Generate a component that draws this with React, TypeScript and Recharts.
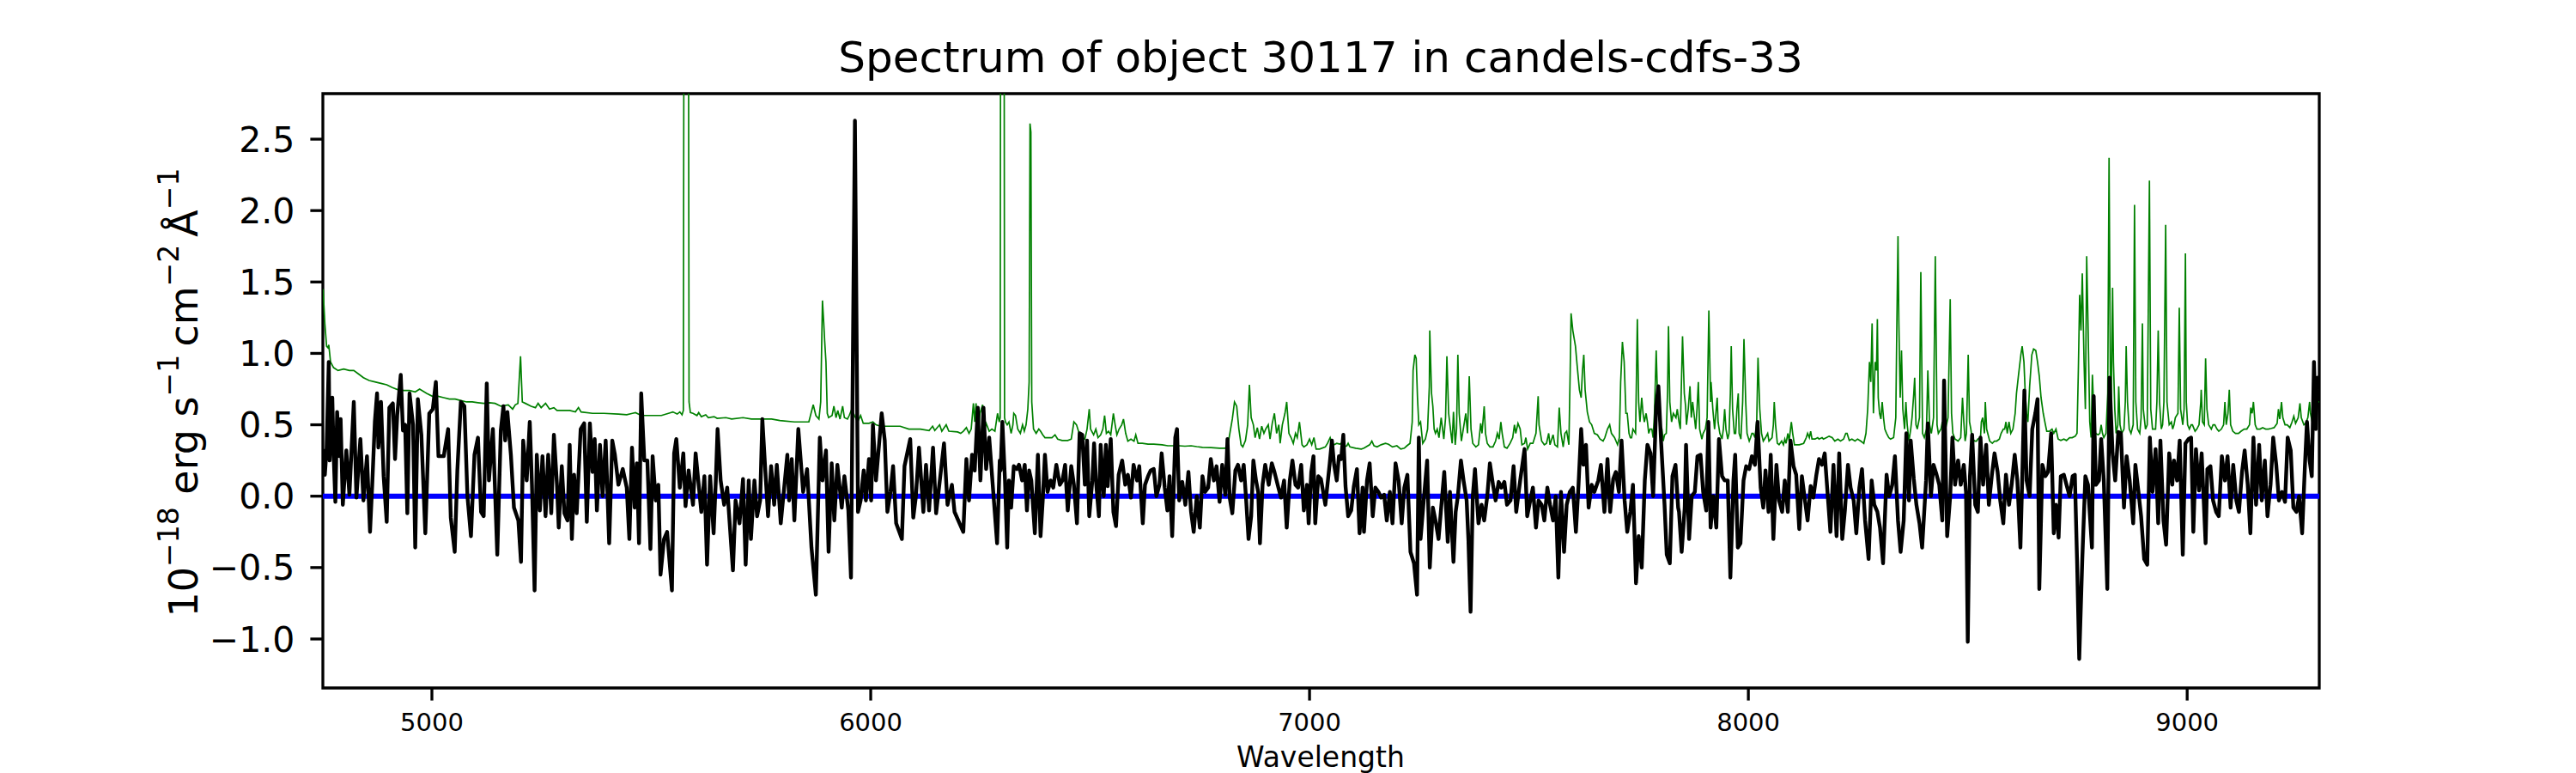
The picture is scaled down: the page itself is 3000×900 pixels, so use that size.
import React from 'react';
import { LineChart, Line, XAxis, YAxis, ReferenceLine, ReferenceArea } from 'recharts';

const FONT = '"DejaVu Sans", sans-serif';
const TITLE = 'Spectrum of object 30117 in candels-cdfs-33';

const xDomain: [number, number] = [4751.5, 9301];
const yDomain: [number, number] = [-1.343, 2.819];
const xTicks = [5000, 6000, 7000, 8000, 9000];
const yTicks = [-1.0, -0.5, 0, 0.5, 1.0, 1.5, 2.0, 2.5];

// object flux, [wavelength, 1e-18 erg/s/cm2/A]
const fluxSeg1: [number, number][] = [
  [4752, 0.33], [4756, 0.15], [4760, 0.33], [4765, 0.94], [4767, 0.25], [4773, 0.69], [4776, 0.3], [4780, -0.04],
  [4784, 0.59], [4789, 0.28], [4792, 0.54], [4797, -0.06], [4805, 0.32], [4812, 0.01], [4822, 0.66], [4828, -0.01],
  [4837, 0.4], [4844, -0.03], [4852, 0.28], [4859, -0.25], [4864, 0.08], [4870, 0.52], [4875, 0.72], [4878, 0.34],
  [4884, 0.66], [4890, 0.14], [4897, -0.18], [4903, 0.62], [4911, 0.65], [4916, 0.26], [4921, 0.57], [4929, 0.85],
  [4934, 0.46], [4939, 0.5], [4944, -0.12], [4949, 0.72], [4957, 0.5], [4962, -0.36], [4968, 0.68], [4976, 0.43],
  [4985, -0.26], [4994, 0.58], [5002, 0.61], [5009, 0.8], [5015, 0.28], [5027, 0.28], [5037, 0.47], [5043, -0.15],
  [5052, -0.39], [5058, 0.18], [5066, 0.66], [5074, 0.63], [5081, 0], [5089, -0.28], [5097, 0.29], [5105, 0.41],
  [5112, -0.11], [5118, -0.14], [5125, 0.79], [5130, 0.11], [5139, 0.47], [5149, -0.41], [5157, 0.46], [5163, 0.63],
  [5167, 0.39], [5172, 0.59], [5180, 0.29], [5187, -0.08], [5197, -0.17], [5203, -0.46], [5208, 0.39], [5216, 0.11],
  [5223, 0.52], [5228, 0.08], [5234, -0.66], [5239, 0.29], [5246, -0.1], [5252, 0.28], [5259, -0.14], [5265, 0.29],
  [5272, -0.12], [5278, 0.43], [5285, 0.08], [5289, -0.22], [5296, 0.21], [5302, -0.12], [5309, -0.17], [5314, 0.36],
  [5319, -0.3], [5324, 0.15], [5330, -0.12], [5339, 0.47], [5347, 0.51], [5353, -0.18], [5360, 0.51], [5366, 0.17],
  [5371, 0.4], [5376, -0.1], [5383, 0.36], [5389, 0], [5396, 0.39], [5404, -0.33], [5411, 0.39], [5417, 0.29],
  [5425, 0.08], [5435, 0.19], [5444, 0.06], [5450, -0.3], [5456, 0.34], [5462, -0.08], [5467, 0.23], [5472, -0.33],
  [5477, 0.72], [5484, 0.25], [5491, 0.25], [5498, -0.37], [5503, 0.28], [5510, -0.03], [5516, 0.08], [5521, -0.55],
];

const fluxSeg2: [number, number][] = [
  [5529, -0.3], [5536, -0.25], [5547, -0.66], [5552, 0.3], [5557, 0.4], [5565, 0.06], [5573, 0.3], [5578, -0.07],
  [5585, 0.18], [5595, -0.06], [5601, 0.3], [5614, -0.11], [5621, 0.14], [5627, -0.48], [5634, 0.14], [5642, -0.26],
  [5647, 0.11], [5651, 0.47], [5658, 0.11], [5666, -0.06], [5673, 0.06], [5686, -0.52], [5692, -0.03], [5701, -0.19],
  [5709, 0.12], [5715, -0.48], [5722, 0.11], [5727, -0.3], [5735, 0.11], [5741, -0.14], [5748, -0.03], [5753, 0.54],
  [5760, 0.17], [5766, -0.14], [5773, 0.21], [5780, -0.06], [5786, 0.22], [5795, -0.19], [5810, 0.29], [5814, -0.03],
  [5820, 0.26], [5826, -0.17], [5835, 0.47], [5846, 0.03], [5855, 0.19], [5865, -0.36], [5875, -0.69], [5884, 0.41],
  [5890, 0.11], [5898, 0.32], [5904, -0.39], [5911, 0.23], [5917, -0.17], [5924, 0.22], [5934, -0.08], [5940, 0.14],
  [5949, -0.1], [5955, -0.57], [5964, 2.63], [5971, -0.11], [5977, -0.03], [5984, 0.18], [5989, -0.03], [5996, 0.26],
  [6001, -0.03], [6005, 0.5], [6012, 0.11], [6025, 0.58], [6032, 0.39], [6038, -0.11], [6045, 0.03], [6051, 0.21],
  [6058, -0.19], [6071, -0.3], [6077, 0.21], [6090, 0.4], [6097, -0.15], [6103, 0], [6110, 0.34], [6120, -0.11],
  [6126, 0.22], [6133, -0.1], [6142, 0.34], [6149, -0.12], [6167, 0.37], [6175, -0.06], [6185, 0.08], [6191, -0.11],
  [6211, -0.25], [6218, 0.26], [6224, -0.03], [6231, 0.29], [6237, 0.18], [6244, 0.62], [6250, 0.11], [6257, 0.62],
  [6263, 0.19], [6270, 0.41], [6288, -0.33], [6294, 0.25],
];

const fluxSeg3: [number, number][] = [
  [6296, 0.18], [6300, 0.52], [6306, 0.11], [6311, -0.36], [6315, 0.11], [6320, -0.08], [6326, 0.21], [6333, 0.19],
  [6338, 0.22], [6345, 0.11], [6351, 0.22], [6356, -0.1], [6361, 0.18], [6366, 0.11], [6374, -0.26], [6381, 0.29],
  [6387, -0.28], [6392, -0.03], [6397, 0.29], [6403, 0.03], [6410, 0.11], [6416, 0.06], [6423, 0.22], [6431, 0.08],
  [6437, 0.11], [6443, 0.22], [6449, -0.1], [6457, 0.21], [6463, 0.08], [6470, -0.19], [6476, 0.44], [6482, 0.43],
  [6488, 0.08], [6493, 0.39], [6498, -0.14], [6505, 0.11], [6509, 0.37], [6514, 0.08], [6520, -0.14], [6524, 0.36],
  [6531, 0], [6536, 0.36], [6540, 0.07], [6547, 0.4], [6553, -0.11], [6559, -0.21], [6565, 0.15], [6573, 0.25],
  [6580, 0.08], [6586, 0.15], [6593, -0.01], [6599, 0.22], [6607, 0.11], [6612, 0.21], [6620, -0.19], [6625, 0.08],
  [6632, 0.14], [6638, 0.18], [6645, 0.19], [6651, 0], [6658, 0.08], [6663, 0.3], [6670, 0.06], [6676, -0.1],
  [6681, 0.14], [6687, -0.28], [6694, 0.41], [6698, 0.47], [6703, -0.03], [6710, 0.1], [6717, -0.06], [6724, 0.17],
  [6730, -0.11], [6736, -0.25], [6743, 0], [6750, -0.22], [6756, 0.14], [6762, 0.03], [6769, 0.06], [6775, 0.26],
  [6782, 0.11], [6788, 0.21], [6795, -0.04], [6801, 0.22], [6808, 0.01], [6813, 0.4], [6818, -0.01], [6824, -0.12],
  [6831, 0.18], [6837, 0.22], [6844, 0.11], [6850, 0.22], [6855, 0], [6861, -0.3], [6867, -0.14], [6872, 0.25],
  [6878, 0.11], [6883, 0.03], [6887, -0.33], [6893, 0.08], [6899, 0.22], [6907, 0.08], [6914, 0.23], [6920, 0.17],
  [6929, 0.06], [6935, -0.01], [6942, 0.11], [6948, -0.22], [6955, 0.11], [6961, 0.25], [6968, 0.08], [6974, 0.06],
  [6981, 0.22], [6987, -0.1], [6994, 0.08], [6998, -0.19], [7004, 0.17], [7009, 0.28], [7013, -0.19], [7020, 0.14],
  [7026, 0.12], [7036, -0.06], [7046, 0.23], [7051, 0.39], [7056, 0.22], [7062, 0.11], [7067, 0.28],
];

const fluxSeg4: [number, number][] = [
  [7072, 0.26], [7077, 0.43], [7082, 0.07], [7088, -0.14], [7095, -0.1], [7101, 0.07], [7108, 0.19], [7114, -0.26],
  [7121, 0.06], [7124, -0.25], [7131, 0.11], [7137, 0.23], [7144, -0.14], [7150, 0.06], [7157, 0.03], [7163, -0.01],
  [7170, 0.01], [7176, -0.17], [7183, 0.03], [7189, -0.19], [7196, 0.23], [7203, 0.11], [7210, -0.19], [7216, 0.06],
  [7223, 0.15], [7230, -0.39], [7238, -0.47], [7245, -0.69], [7249, 0.41], [7253, -0.3], [7261, 0], [7268, 0.25],
  [7274, -0.5], [7281, -0.08], [7287, -0.17], [7294, -0.3], [7300, -0.08], [7307, 0.17], [7315, -0.32], [7320, 0.03],
  [7328, -0.46], [7333, -0.11], [7338, 0], [7345, 0.25], [7351, 0.11], [7358, -0.03], [7362, -0.3], [7367, -0.81],
  [7372, 0], [7377, 0.19], [7385, -0.19], [7392, -0.06], [7398, -0.17], [7405, 0], [7411, 0.23], [7418, 0.08],
  [7424, -0.03], [7431, 0.1], [7437, 0.06], [7444, 0.1], [7450, -0.06], [7458, -0.03], [7465, 0.21], [7471, -0.11],
  [7480, 0.11], [7490, 0.33], [7496, -0.14], [7503, -0.03], [7509, 0.06], [7516, -0.22], [7522, -0.03], [7529, -0.06],
  [7535, -0.17], [7542, 0.06], [7548, -0.06], [7555, -0.17], [7561, 0], [7567, -0.57], [7573, 0.03], [7580, -0.39],
  [7586, -0.06], [7593, 0.03], [7600, 0.06], [7607, -0.25], [7613, 0.08], [7619, 0.47], [7624, 0.22], [7630, 0.36],
  [7636, -0.08], [7643, 0.08], [7649, 0.03], [7658, 0.11], [7664, 0.22], [7672, -0.11], [7679, 0.26], [7685, -0.11],
  [7692, 0.12], [7698, 0.17], [7705, 0.03], [7711, 0.39], [7718, -0.03], [7724, -0.25], [7731, -0.11], [7737, 0.08],
  [7744, -0.61], [7750, -0.28], [7757, -0.5], [7764, 0.11], [7770, 0.36], [7777, 0.3], [7783, 0], [7790, 0.63],
  [7795, 0.77], [7801, 0.39], [7809, -0.06], [7814, -0.41], [7821, -0.47], [7827, 0.14], [7834, 0.22], [7840, -0.08],
];

const fluxSeg5: [number, number][] = [
  [7842, -0.11], [7848, -0.39], [7855, -0.08], [7858, 0.36], [7865, -0.3], [7871, 0], [7878, 0.03], [7884, 0.28],
  [7891, 0.29], [7897, 0.03], [7904, -0.1], [7909, 0.52], [7914, -0.22], [7920, 0], [7927, -0.22], [7933, 0.4],
  [7940, 0.14], [7946, 0.11], [7953, 0.11], [7959, -0.57], [7966, 0.11], [7970, 0.29], [7976, -0.36], [7982, -0.33],
  [7989, 0.11], [7995, 0.21], [8002, 0.19], [8008, 0.28], [8015, 0.22], [8021, 0.52], [8028, 0.06], [8034, -0.08],
  [8039, 0.18], [8046, -0.11], [8051, 0.29], [8057, -0.3], [8064, 0.22], [8070, -0.03], [8077, -0.11], [8083, 0.11],
  [8090, -0.11], [8096, 0.39], [8103, 0.21], [8109, 0.15], [8116, -0.23], [8122, 0.14], [8129, -0.03], [8135, -0.17],
  [8142, 0.07], [8148, -0.01], [8155, 0.15], [8161, 0.26], [8168, 0.22], [8174, 0.3], [8181, 0], [8187, -0.25],
  [8194, 0.22], [8201, -0.28], [8207, 0.3], [8214, -0.3], [8220, -0.1], [8227, 0.22], [8233, 0.06], [8240, -0.03],
  [8246, -0.26], [8253, 0.06], [8259, 0.19], [8266, -0.17], [8274, -0.44], [8281, 0.11], [8287, -0.06], [8294, -0.11],
  [8300, -0.22], [8307, -0.47], [8315, 0.15], [8321, 0], [8328, 0.08], [8334, 0.28], [8341, -0.17], [8347, -0.39],
  [8354, -0.17], [8360, 0.44], [8366, -0.03], [8370, 0.39], [8377, 0.12], [8383, -0.06], [8390, -0.19], [8396, -0.36],
  [8405, 0.11], [8409, 0.51], [8416, 0], [8422, 0.22], [8429, 0.15], [8435, 0.08], [8442, -0.17], [8446, 0.81],
  [8453, -0.28], [8460, 0], [8465, 0.41], [8471, 0.08], [8478, 0.25], [8484, 0.08], [8491, 0.22], [8496, 0.03],
  [8500, -1.02], [8505, 0.14], [8510, 0.43], [8517, -0.06], [8523, -0.11], [8529, 0.41], [8535, 0.08], [8542, 0.36],
  [8548, -0.06], [8555, 0.15], [8561, 0.3], [8568, 0.17], [8574, -0.03], [8581, -0.19], [8587, 0.15], [8594, -0.06],
  [8600, 0.08], [8607, 0.29], [8613, 0.11],
];

const fluxSeg6: [number, number][] = [
  [8620, -0.36], [8624, 0.11], [8629, 0.74], [8634, 0.11], [8641, 0], [8647, 0.47], [8654, 0.58], [8659, 0.68],
  [8663, -0.65], [8670, 0.22], [8677, 0.14], [8683, 0.17], [8690, 0.44], [8696, -0.26], [8701, -0.06], [8707, -0.29],
  [8712, 0.14], [8719, 0.15], [8725, 0.08], [8732, 0], [8739, 0.14], [8744, 0.15], [8749, -0.44], [8754, -1.14],
  [8761, -0.44], [8768, 0.14], [8774, 0.08], [8783, -0.36], [8787, 0.7], [8792, 0.08], [8799, 0.11], [8804, 0.4],
  [8810, 0.11], [8818, -0.65], [8823, 0.83], [8830, 0.3], [8836, 0.11], [8843, 0.45], [8849, 0.44], [8856, -0.08],
  [8862, 0.28], [8869, 0.11], [8877, -0.19], [8882, 0.22], [8889, 0.03], [8895, -0.14], [8902, -0.44], [8909, -0.48],
  [8915, 0.41], [8921, 0.03], [8928, 0.33], [8934, -0.19], [8939, 0.39], [8946, -0.17], [8952, -0.34], [8959, 0.3],
  [8966, 0.08], [8970, 0.25], [8977, 0.11], [8983, 0.39], [8990, -0.41], [8996, 0.37], [9003, 0.4], [9009, 0.41],
  [9014, -0.25], [9020, 0.33], [9027, 0.04], [9033, 0.3], [9042, -0.33], [9046, 0.19], [9053, 0.21], [9059, -0.03],
  [9066, -0.11], [9072, -0.14], [9079, 0.28], [9086, 0.11], [9092, 0.28], [9099, -0.08], [9105, 0.22], [9112, -0.03],
  [9118, -0.11], [9125, 0.17], [9131, 0.32], [9138, 0.08], [9144, -0.26], [9151, 0.41], [9157, -0.06], [9164, 0.36],
  [9170, -0.03], [9177, 0.25], [9183, -0.14], [9190, 0.08], [9196, 0.41], [9203, 0.22], [9209, -0.03], [9216, 0.03],
  [9223, -0.04], [9229, 0.41], [9236, 0.32], [9242, -0.08], [9249, -0.11], [9255, 0], [9262, -0.26], [9268, 0.19],
  [9273, 0.52], [9279, 0.25], [9284, 0.14], [9289, 0.94], [9293, 0.47], [9297, 0.83], [9301, 0.75],
];

// noise / sky spectrum (thin green line); the 5577 and 6300 sky lines run off the top
const skySeg1: [number, number][] = [
  [4752, 1.45], [4756, 1.21], [4760, 1.05], [4763, 1.04], [4765, 1.06], [4769, 0.94], [4776, 0.9], [4786, 0.88],
  [4799, 0.89], [4812, 0.88], [4822, 0.88], [4831, 0.86], [4844, 0.83], [4857, 0.81], [4870, 0.8], [4884, 0.79],
  [4897, 0.78], [4910, 0.76], [4923, 0.745], [4936, 0.74], [4949, 0.74], [4962, 0.73], [4972, 0.75], [4988, 0.72],
  [5001, 0.7], [5014, 0.7], [5027, 0.69], [5040, 0.68], [5053, 0.68], [5066, 0.67], [5079, 0.66], [5092, 0.66],
  [5105, 0.655], [5118, 0.65], [5131, 0.655], [5144, 0.65], [5157, 0.63], [5174, 0.64], [5184, 0.61], [5190, 0.64],
  [5196, 0.65], [5202, 0.98], [5206, 0.66], [5213, 0.65], [5226, 0.63], [5236, 0.62], [5242, 0.65], [5249, 0.62],
  [5259, 0.65], [5268, 0.61], [5278, 0.62], [5285, 0.6], [5294, 0.6], [5314, 0.6], [5327, 0.59], [5334, 0.62],
  [5340, 0.59], [5366, 0.58], [5392, 0.58], [5425, 0.575], [5444, 0.57], [5457, 0.58], [5464, 0.585], [5477, 0.565],
  [5490, 0.565], [5523, 0.565],
];

const skySeg2: [number, number][] = [
  [5544, 0.585], [5549, 0.59], [5559, 0.575], [5565, 0.59], [5570, 0.57], [5573, 0.6], [5575, 5], [5581, 6],
  [5584, 5], [5586, 0.66], [5589, 0.585], [5595, 0.58], [5604, 0.565], [5608, 0.585], [5614, 0.557], [5624, 0.57],
  [5630, 0.55], [5643, 0.557], [5650, 0.545], [5670, 0.55], [5683, 0.54], [5709, 0.55], [5728, 0.54], [5754, 0.54],
  [5774, 0.54], [5793, 0.53], [5826, 0.52], [5859, 0.52], [5869, 0.64], [5875, 0.565], [5882, 0.54], [5886, 0.66],
  [5890, 1.37], [5893, 1.21], [5895, 1.09], [5898, 0.94], [5901, 0.58], [5904, 0.55], [5912, 0.565], [5916, 0.63],
  [5921, 0.55], [5925, 0.6], [5930, 0.54], [5936, 0.63], [5940, 0.55], [5947, 0.54], [5951, 0.565], [5957, 0.61],
  [5963, 0.565], [5970, 0.52], [5977, 0.565], [5983, 0.51], [5996, 0.51], [6005, 0.52], [6012, 0.5], [6022, 0.49],
  [6035, 0.49], [6054, 0.49], [6067, 0.49], [6087, 0.47], [6113, 0.47], [6133, 0.46], [6141, 0.49], [6146, 0.46],
  [6157, 0.5], [6162, 0.455], [6172, 0.5], [6178, 0.455], [6198, 0.45], [6205, 0.44], [6211, 0.455], [6218, 0.48],
  [6224, 0.44], [6229, 0.47], [6234, 0.65], [6237, 0.52], [6240, 0.65], [6245, 0.44], [6249, 0.58], [6255, 0.64],
  [6260, 0.48], [6263, 0.51], [6270, 0.455], [6276, 0.47], [6283, 0.455], [6289, 0.58], [6293, 0.52],
];

const skySeg3: [number, number][] = [
  [6295, 0.55], [6296.5, 5], [6300, 6], [6303.5, 5], [6305, 0.55], [6307, 0.52], [6311, 0.5], [6315, 0.52],
  [6320, 0.44], [6324, 0.5], [6326, 0.58], [6330, 0.565], [6335, 0.47], [6341, 0.44], [6346, 0.5], [6350, 0.455],
  [6354, 0.5], [6358, 0.61], [6361, 0.8], [6363, 2.61], [6365, 2.55], [6367, 0.66], [6371, 0.47], [6377, 0.44],
  [6383, 0.47], [6387, 0.455], [6392, 0.43], [6397, 0.41], [6403, 0.41], [6413, 0.41], [6420, 0.43], [6426, 0.4],
  [6436, 0.39], [6449, 0.39], [6457, 0.4], [6463, 0.52], [6469, 0.5], [6475, 0.44], [6482, 0.41], [6488, 0.4],
  [6493, 0.47], [6498, 0.61], [6501, 0.47], [6508, 0.43], [6513, 0.47], [6518, 0.41], [6524, 0.43], [6529, 0.47],
  [6533, 0.565], [6537, 0.44], [6542, 0.455], [6547, 0.43], [6553, 0.58], [6557, 0.5], [6561, 0.43], [6566, 0.47],
  [6572, 0.5], [6576, 0.54], [6581, 0.44], [6586, 0.385], [6593, 0.4], [6600, 0.385], [6604, 0.43], [6609, 0.37],
  [6619, 0.37], [6632, 0.364], [6645, 0.364], [6664, 0.36], [6677, 0.353], [6690, 0.353], [6703, 0.353], [6716, 0.35],
  [6730, 0.353], [6743, 0.347], [6756, 0.342], [6775, 0.34], [6795, 0.336], [6808, 0.336], [6814, 0.36], [6824, 0.54],
  [6829, 0.66], [6834, 0.63], [6839, 0.47], [6844, 0.36], [6848, 0.345], [6854, 0.39], [6859, 0.5], [6863, 0.78],
  [6867, 0.55], [6872, 0.5], [6876, 0.41], [6881, 0.48], [6886, 0.4], [6891, 0.49], [6896, 0.44], [6900, 0.47],
  [6906, 0.5], [6910, 0.4], [6915, 0.51], [6920, 0.58], [6925, 0.44], [6930, 0.5], [6933, 0.37], [6938, 0.5],
  [6944, 0.58], [6948, 0.66], [6953, 0.44], [6958, 0.41], [6963, 0.37], [6968, 0.44], [6972, 0.41], [6977, 0.52],
  [6983, 0.36], [6987, 0.345], [6994, 0.36], [7000, 0.4], [7005, 0.36], [7010, 0.41], [7015, 0.33], [7023, 0.33],
  [7036, 0.345], [7041, 0.37], [7047, 0.41], [7051, 0.37], [7056, 0.36], [7062, 0.37], [7069, 0.364],
];

const skySeg4: [number, number][] = [
  [7072, 0.37], [7079, 0.345], [7085, 0.353], [7088, 0.37], [7092, 0.345], [7105, 0.336], [7118, 0.33], [7124, 0.336],
  [7137, 0.36], [7142, 0.386], [7147, 0.353], [7154, 0.345], [7163, 0.36], [7173, 0.37], [7180, 0.364], [7189, 0.345],
  [7199, 0.353], [7208, 0.33], [7216, 0.336], [7222, 0.353], [7229, 0.37], [7234, 0.52], [7236, 0.88], [7240, 0.99],
  [7243, 0.965], [7246, 0.69], [7249, 0.5], [7253, 0.52], [7258, 0.37], [7264, 0.4], [7269, 0.47], [7273, 0.77],
  [7274, 1.16], [7278, 0.72], [7281, 0.63], [7284, 0.47], [7287, 0.44], [7291, 0.47], [7295, 0.41], [7300, 0.55],
  [7306, 0.4], [7310, 0.55], [7313, 0.98], [7317, 0.58], [7320, 0.5], [7325, 0.37], [7328, 0.59], [7332, 0.36],
  [7335, 0.47], [7338, 0.99], [7341, 0.58], [7346, 0.386], [7353, 0.52], [7356, 0.58], [7360, 0.44], [7364, 0.84],
  [7368, 0.47], [7372, 0.37], [7379, 0.345], [7385, 0.36], [7390, 0.51], [7393, 0.44], [7398, 0.63], [7401, 0.44],
  [7405, 0.37], [7411, 0.345], [7418, 0.345], [7424, 0.386], [7428, 0.44], [7432, 0.4], [7436, 0.52], [7439, 0.44],
  [7444, 0.345], [7450, 0.336], [7457, 0.37], [7463, 0.41], [7467, 0.5], [7470, 0.44], [7475, 0.51], [7480, 0.47],
  [7484, 0.36], [7490, 0.37], [7493, 0.41], [7497, 0.33], [7503, 0.37], [7509, 0.37], [7516, 0.44], [7521, 0.7],
  [7523, 0.5], [7529, 0.386], [7535, 0.36], [7540, 0.37], [7545, 0.44], [7548, 0.36], [7555, 0.43], [7559, 0.36],
  [7565, 0.345], [7569, 0.62], [7573, 0.44], [7578, 0.345], [7582, 0.44], [7586, 0.455], [7591, 0.36], [7594, 0.88],
  [7596, 1.28], [7600, 1.16], [7606, 1.05], [7610, 0.91], [7615, 0.745], [7619, 0.69], [7622, 0.88], [7625, 0.99],
  [7628, 0.745], [7633, 0.59], [7638, 0.52], [7643, 0.5], [7649, 0.44], [7656, 0.43], [7662, 0.4], [7669, 0.386],
  [7673, 0.41], [7679, 0.47], [7684, 0.5], [7688, 0.44], [7695, 0.41], [7702, 0.36], [7706, 0.41], [7709, 0.8],
  [7713, 1.08], [7717, 0.94], [7721, 0.58], [7724, 0.58], [7728, 0.44], [7731, 0.41], [7734, 0.41], [7737, 0.47],
  [7743, 0.44], [7747, 1.24], [7750, 0.66], [7753, 0.52], [7757, 0.69], [7760, 0.58], [7763, 0.52], [7767, 0.58],
  [7770, 0.52], [7773, 0.44], [7776, 0.47], [7780, 0.47], [7783, 0.41], [7786, 0.58], [7790, 1.02], [7793, 0.69],
  [7796, 0.55], [7799, 0.5], [7803, 0.47], [7806, 0.386], [7809, 0.43], [7813, 0.44], [7816, 0.745], [7818, 1.19],
  [7821, 0.66], [7825, 0.52], [7829, 0.58], [7835, 0.55], [7838, 0.61],
];

const skySeg5: [number, number][] = [
  [7842, 0.52], [7845, 0.47], [7850, 1.12], [7854, 0.72], [7857, 0.63], [7859, 0.5], [7863, 0.61], [7867, 0.77],
  [7870, 0.55], [7873, 0.66], [7876, 0.58], [7880, 0.47], [7883, 0.61], [7886, 0.8], [7889, 0.47], [7894, 0.4],
  [7897, 0.44], [7902, 0.47], [7906, 0.55], [7910, 1.3], [7914, 0.66], [7915, 0.8], [7919, 0.61], [7923, 0.47],
  [7929, 0.69], [7931, 0.52], [7935, 0.44], [7940, 0.4], [7943, 0.47], [7946, 0.61], [7949, 0.47], [7953, 0.4],
  [7956, 0.44], [7959, 0.72], [7961, 1.05], [7964, 0.61], [7968, 0.44], [7971, 0.44], [7974, 0.61], [7977, 0.72],
  [7979, 0.44], [7983, 0.4], [7987, 0.66], [7990, 1.1], [7994, 0.66], [7997, 0.44], [8002, 0.386], [8005, 0.41],
  [8008, 0.44], [8011, 0.44], [8015, 0.41], [8019, 0.52], [8022, 0.97], [8026, 0.61], [8030, 0.44], [8034, 0.386],
  [8039, 0.41], [8044, 0.44], [8047, 0.386], [8054, 0.41], [8057, 0.5], [8059, 0.66], [8062, 0.5], [8066, 0.37],
  [8070, 0.36], [8076, 0.386], [8080, 0.36], [8083, 0.4], [8086, 0.37], [8090, 0.44], [8093, 0.386], [8096, 0.47],
  [8098, 0.52], [8101, 0.44], [8105, 0.36], [8109, 0.36], [8116, 0.36], [8126, 0.37], [8132, 0.41], [8135, 0.44],
  [8139, 0.41], [8142, 0.455], [8145, 0.4], [8152, 0.4], [8158, 0.41], [8161, 0.4], [8168, 0.41], [8171, 0.4],
  [8178, 0.41], [8184, 0.42], [8191, 0.41], [8197, 0.386], [8204, 0.4], [8210, 0.386], [8217, 0.4], [8222, 0.44],
  [8225, 0.44], [8230, 0.39], [8236, 0.4], [8243, 0.386], [8249, 0.4], [8256, 0.386], [8263, 0.37], [8268, 0.44],
  [8272, 0.61], [8276, 0.94], [8279, 0.8], [8282, 1.21], [8285, 0.58], [8289, 0.94], [8292, 0.88], [8294, 1.24],
  [8296, 0.69], [8299, 0.58], [8302, 0.54], [8305, 0.66], [8308, 0.55], [8311, 0.47], [8315, 0.44], [8320, 0.41],
  [8324, 0.4], [8331, 0.41], [8336, 0.55], [8338, 1.1], [8341, 1.82], [8343, 1.21], [8346, 0.69], [8349, 1.02],
  [8352, 0.61], [8356, 0.47], [8359, 0.66], [8362, 0.5], [8366, 0.386], [8370, 0.47], [8373, 0.55], [8377, 0.72],
  [8379, 0.83], [8382, 0.5], [8385, 0.47], [8390, 0.55], [8393, 1.57], [8397, 0.44], [8401, 0.41], [8406, 0.47],
  [8409, 0.88], [8413, 0.5], [8417, 0.44], [8422, 0.55], [8426, 1.68], [8430, 0.5], [8433, 0.44], [8439, 0.47],
  [8442, 0.52], [8445, 0.44], [8450, 0.48], [8455, 0.55], [8460, 1.38], [8463, 0.58], [8466, 0.44], [8471, 0.4],
  [8478, 0.386], [8484, 0.41], [8488, 0.69], [8491, 0.52], [8494, 0.386], [8497, 0.44], [8501, 0.99], [8504, 0.52],
  [8507, 0.47], [8510, 0.4], [8516, 0.386], [8520, 0.386], [8523, 0.4], [8529, 0.41], [8531, 0.52], [8534, 0.55],
  [8538, 0.44], [8540, 0.66], [8543, 0.47], [8550, 0.386], [8556, 0.37], [8561, 0.386], [8566, 0.386], [8572, 0.4],
  [8576, 0.44], [8581, 0.47], [8584, 0.47], [8587, 0.52], [8590, 0.44], [8594, 0.52], [8598, 0.44], [8603, 0.47],
  [8608, 0.58], [8611, 0.72], [8615, 0.83],
];

const skySeg6: [number, number][] = [
  [8621, 0.99], [8624, 1.05], [8628, 0.94], [8631, 0.72], [8634, 0.58], [8637, 0.52], [8641, 0.77], [8646, 0.99],
  [8650, 1.03], [8655, 1.02], [8659, 0.94], [8663, 0.84], [8667, 0.69], [8672, 0.58], [8677, 0.5], [8680, 0.455],
  [8686, 0.455], [8692, 0.47], [8696, 0.44], [8701, 0.47], [8706, 0.4], [8712, 0.39], [8719, 0.4], [8725, 0.39],
  [8732, 0.41], [8738, 0.41], [8745, 0.42], [8749, 0.44], [8752, 0.88], [8755, 1.41], [8758, 1.16], [8761, 1.56],
  [8765, 0.94], [8768, 0.61], [8771, 1.68], [8774, 1.21], [8778, 0.52], [8781, 0.41], [8784, 0.85], [8787, 0.61],
  [8791, 0.44], [8797, 0.43], [8801, 0.44], [8804, 0.5], [8807, 0.44], [8810, 0.41], [8815, 0.44], [8819, 0.72],
  [8822, 2.37], [8825, 0.8], [8827, 0.66], [8830, 1.46], [8832, 0.94], [8835, 0.61], [8838, 0.44], [8842, 0.5],
  [8844, 0.77], [8847, 0.5], [8851, 0.44], [8856, 0.47], [8859, 0.66], [8861, 1.05], [8864, 0.66], [8868, 0.47],
  [8872, 0.44], [8877, 0.5], [8880, 2.04], [8883, 0.66], [8887, 0.47], [8892, 0.44], [8895, 0.55], [8898, 1.21],
  [8900, 0.61], [8905, 0.47], [8909, 0.5], [8914, 2.21], [8917, 0.61], [8921, 0.47], [8928, 0.47], [8931, 0.66],
  [8934, 1.16], [8937, 0.66], [8941, 0.47], [8944, 0.5], [8947, 0.66], [8951, 1.9], [8954, 0.66], [8959, 0.5],
  [8964, 0.52], [8967, 0.47], [8970, 0.5], [8973, 0.55], [8979, 0.58], [8982, 1.32], [8985, 0.61], [8990, 0.5],
  [8993, 0.61], [8996, 1.7], [8998, 0.66], [9001, 0.5], [9005, 0.47], [9009, 0.5], [9012, 0.5], [9018, 0.455],
  [9022, 0.47], [9027, 0.5], [9031, 0.66], [9032, 0.745], [9035, 0.52], [9039, 0.5], [9042, 0.965], [9045, 0.61],
  [9049, 0.5], [9055, 0.47], [9059, 0.5], [9063, 0.5], [9068, 0.47], [9072, 0.455], [9078, 0.47], [9083, 0.5],
  [9086, 0.66], [9089, 0.5], [9093, 0.58], [9096, 0.745], [9099, 0.5], [9104, 0.455], [9110, 0.44], [9117, 0.44],
  [9123, 0.455], [9130, 0.47], [9136, 0.47], [9142, 0.5], [9145, 0.62], [9148, 0.58], [9151, 0.66], [9155, 0.5],
  [9159, 0.47], [9166, 0.47], [9172, 0.48], [9179, 0.47], [9185, 0.47], [9192, 0.475], [9198, 0.48], [9205, 0.51],
  [9208, 0.61], [9211, 0.54], [9215, 0.66], [9218, 0.55], [9223, 0.5], [9228, 0.5], [9234, 0.48], [9239, 0.52],
  [9243, 0.56], [9247, 0.51], [9253, 0.55], [9257, 0.65], [9260, 0.55], [9266, 0.5], [9270, 0.51], [9275, 0.55],
  [9279, 0.66], [9281, 0.58], [9285, 0.52], [9289, 0.55], [9293, 0.61], [9296, 0.66], [9301, 0.66],
];

const toRows = (segs: [number, number][][]) =>
  segs.flat().map(([w, v]) => ({ w, v }));

const fluxRows = toRows([fluxSeg1, fluxSeg2, fluxSeg3, fluxSeg4, fluxSeg5, fluxSeg6]);
const skyRows = toRows([skySeg1, skySeg2, skySeg3, skySeg4, skySeg5, skySeg6]);

const fmtY = (v: number) => v.toFixed(1).replace('-', '\u2212');

export default function App() {
  return (
    <div style={{ position: 'absolute', left: 0, top: 0, width: 3000, height: 900, background: '#fff' }}>
      <LineChart width={3000} height={900} margin={{ top: 109, right: 299, bottom: 39, left: 276 }}>
        <XAxis
          type="number"
          dataKey="w"
          domain={xDomain}
          ticks={xTicks}
          interval={0}
          allowDataOverflow
          height={60}
          axisLine={false}
          tickSize={14.6}
          tickMargin={15}
          tickLine={{ stroke: '#000', strokeWidth: 3.3 }}
          tick={{ fontSize: 29, fill: '#000', fontFamily: FONT }}
        />
        <YAxis
          type="number"
          domain={yDomain}
          ticks={yTicks}
          interval={0}
          allowDataOverflow
          width={100}
          axisLine={false}
          tickSize={14.6}
          tickMargin={18}
          tickFormatter={fmtY}
          tickLine={{ stroke: '#000', strokeWidth: 3.3 }}
          tick={{ fontSize: 41, fill: '#000', fontFamily: FONT }}
        />
        <Line
          data={skyRows}
          dataKey="v"
          type="linear"
          stroke="#008000"
          strokeWidth={1.7}
          dot={false}
          activeDot={false}
          isAnimationActive={false}
        />
        <ReferenceLine y={0} stroke="#0000ff" strokeWidth={6} />
        <Line
          data={fluxRows}
          dataKey="v"
          type="linear"
          stroke="#000"
          strokeWidth={4.4}
          strokeLinejoin="round"
          dot={false}
          activeDot={false}
          isAnimationActive={false}
        />
        <ReferenceArea
          x1={xDomain[0]}
          x2={xDomain[1]}
          y1={yDomain[0]}
          y2={yDomain[1]}
          fill="none"
          fillOpacity={0}
          stroke="#000"
          strokeWidth={3.3}
        />
      </LineChart>
      <svg
        width={3000}
        height={900}
        style={{ position: 'absolute', left: 0, top: 0, pointerEvents: 'none' }}
        fontFamily={FONT}
      >
        <text x={1538} y={84} textAnchor="middle" fontSize={50} fill="#000">
          {TITLE}
        </text>
        <text x={1538} y={893} textAnchor="middle" fontSize={33} fill="#000">
          Wavelength
        </text>
        <text
          transform="translate(214,457) rotate(-90)"
          textAnchor="middle"
          dominantBaseline="central"
          fontSize={46}
          fill="#000"
        >
          10
          <tspan dy={-18} fontSize={33}>{'\u221218'}</tspan>
          <tspan dy={18}>{' erg s'}</tspan>
          <tspan dy={-18} fontSize={33}>{'\u22121'}</tspan>
          <tspan dy={18}>{'\u2009cm'}</tspan>
          <tspan dy={-18} fontSize={33}>{'\u22122'}</tspan>
          <tspan dy={18}>{'\u2009\u00c5'}</tspan>
          <tspan dy={-18} fontSize={33}>{'\u22121'}</tspan>
        </text>
      </svg>
    </div>
  );
}
